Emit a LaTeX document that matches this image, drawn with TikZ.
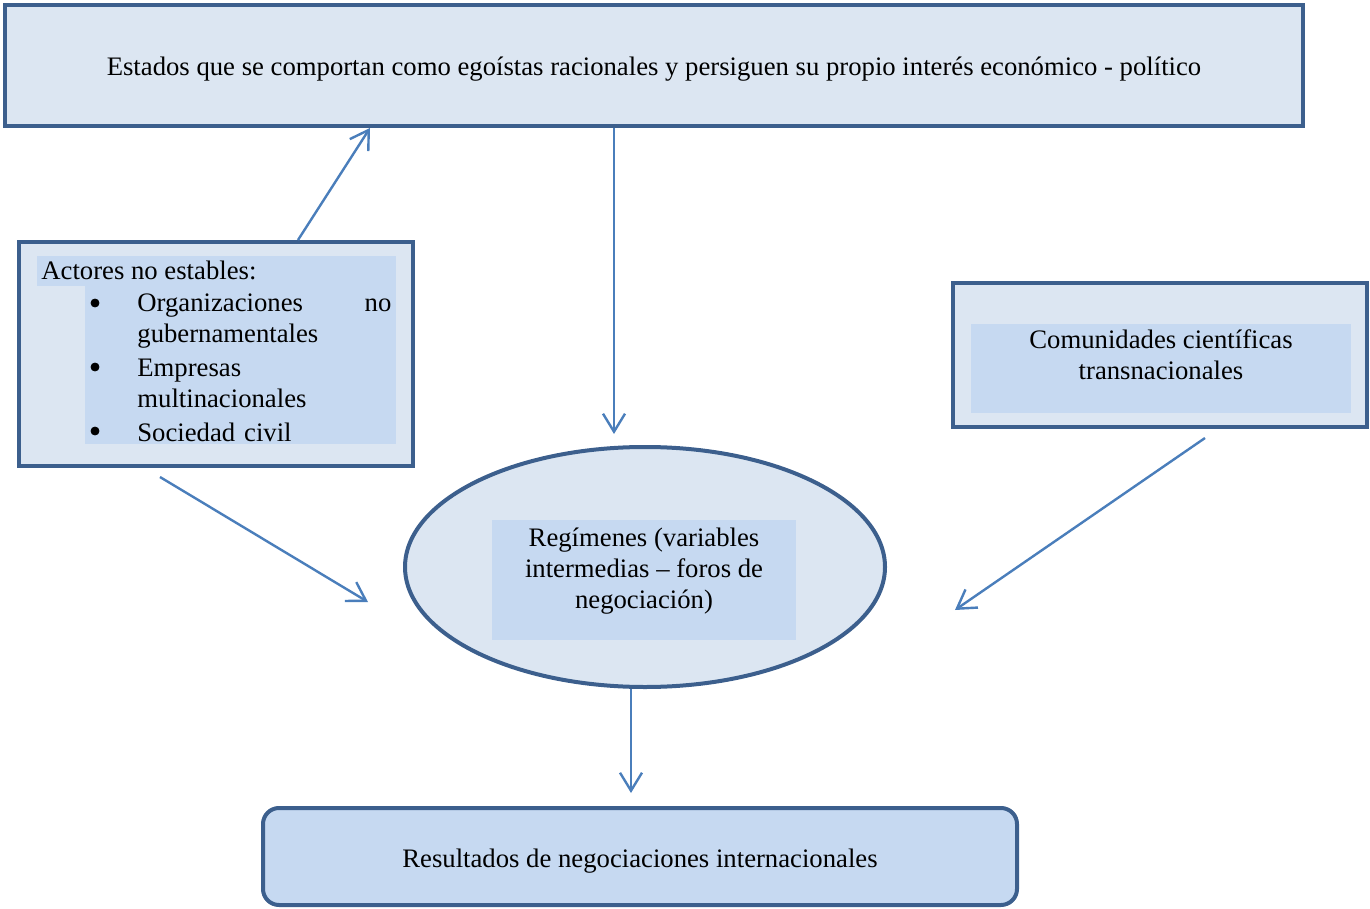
\documentclass[tikz,border=0pt]{standalone}
\usepackage{fontspec}
\setmainfont{Liberation Serif}
\usepackage{tikz}
\usepackage{xcolor}
\usetikzlibrary{arrows.meta,shapes.geometric}

\definecolor{outerfill}{HTML}{DCE6F2}
\definecolor{innerfill}{HTML}{C6D9F1}
\definecolor{boxline}{HTML}{3C5F8D}
\definecolor{arrline}{HTML}{4A7EBB}

\tikzset{
  outerbox/.style={draw=boxline,line width=2pt,fill=outerfill,inner sep=0pt},
  txt/.style={inner sep=0pt,font=\fontsize{13.35pt}{15.5pt}\selectfont},
  arr/.style={draw=arrline,line width=1.2pt,-{Straight Barb[length=9pt,width=11pt,line width=1.2pt]}}
}

\begin{document}
\begin{tikzpicture}[x=0.5pt,y=-0.5pt]
\useasboundingbox (0,0) rectangle (1370,909);
% boxes
\node[outerbox,minimum width=649pt,minimum height=60.5pt] (estados) at (654,65.5) {};
\node[txt] at (654,69) {Estados que se comportan como egoístas racionales y persiguen su propio interés económico - político};
\node[outerbox,minimum width=197pt,minimum height=112pt] (actores) at (216,354) {};
\node[outerbox,minimum width=207pt,minimum height=72pt] (comunidades) at (1160,355) {};
\node[outerbox,ellipse,minimum width=240pt,minimum height=120pt] (regimenes) at (645,567) {};
\node[outerbox,fill=innerfill,rounded corners=8pt,minimum width=377pt,minimum height=48.5pt] (resultados) at (640,856.5) {};
% inner fills
\fill[innerfill] (37,256) rectangle (396,286);
\fill[innerfill] (85,286) rectangle (396,444);
\fill[innerfill] (971,324) rectangle (1351,413);
\fill[innerfill] (492,520) rectangle (796,640);
% texts
\node[txt,anchor=west] (titact) at (41,270) {Actores no estables:};
\filldraw (95,303) circle (2pt);
\filldraw (95,367) circle (2pt);
\filldraw (95,431) circle (2pt);
\node[txt,anchor=west,text width=127pt,align=left] (ong) at (137,321) {Organizaciones\hfill no\\gubernamentales};
\node[txt,anchor=west,text width=127pt,align=left] (emp) at (137,383) {Empresas\\multinacionales};
\node[txt,anchor=west,text width=127pt,align=left] (soc) at (137,432) {Sociedad civil};
\node[txt,align=center] (comtxt) at (1161,355) {Comunidades científicas\\transnacionales};
\node[txt,align=center] (regtxt) at (644,571.5) {Regímenes (variables\\intermedias -- foros de\\negociación)};
\node[txt] (restxt) at (640,861) {Resultados de negociaciones internacionales};
% arrows
\coordinate (a1) at (298,0);
\coordinate (a2) at (370,0);
\coordinate (b1) at (614,0);
\coordinate (b2) at (614,434);
\coordinate (c1) at (160,477);
\coordinate (c2) at (368,602);
\coordinate (d1) at (1205,438);
\coordinate (d2) at (955,610);
\coordinate (e1) at (631,0);
\coordinate (e2) at (631,793);
\draw[arr] (actores.north -| a1) -- (estados.south -| a2);
\draw[arr] (estados.south -| b1) -- (b2);
\draw[arr] (c1) -- (c2);
\draw[arr] (d1) -- (d2);
\draw[arr] (regimenes.south -| e1) -- (e2);
\end{tikzpicture}
\end{document}
